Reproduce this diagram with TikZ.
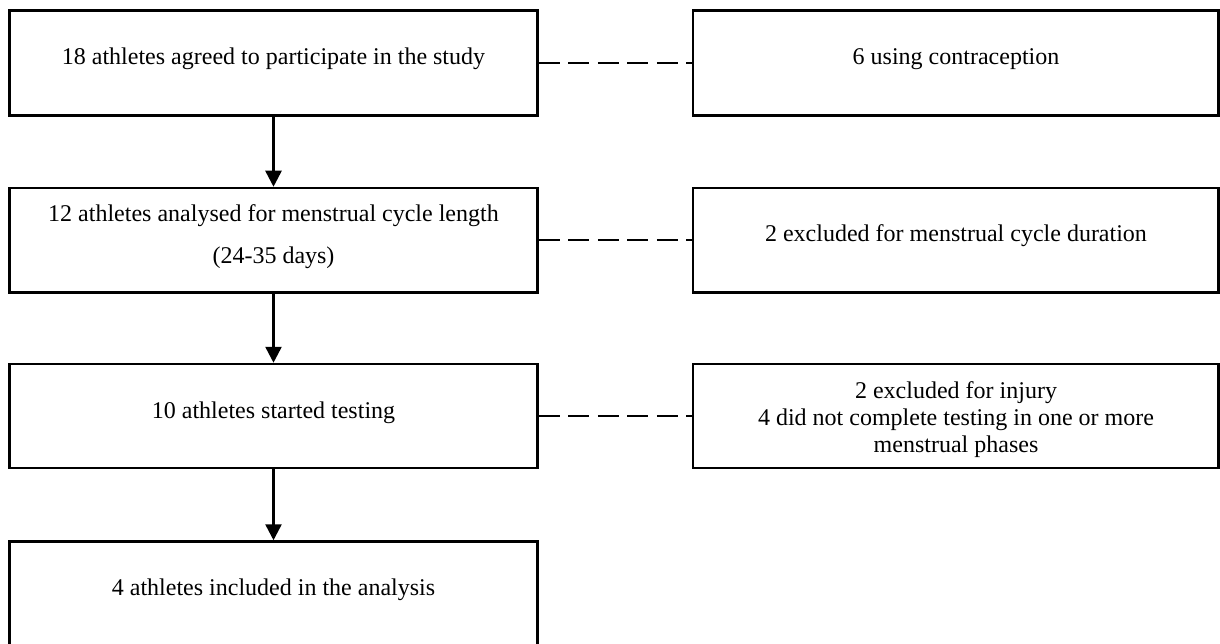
\documentclass[tikz,border=0pt]{standalone}
\usepackage{fontspec}
\setmainfont{Liberation Serif}
\usetikzlibrary{arrows.meta}
\begin{document}
\begin{tikzpicture}[x=1pt,y=-1pt,
  lbox/.style={draw, line width=2.5pt, inner sep=0pt, minimum width=528pt, minimum height=105pt},
  rbox/.style={draw, line width=2.5pt, inner sep=0pt, minimum width=525.5pt, minimum height=105pt},
  txt/.style={inner sep=0pt, anchor=base, font=\fontsize{24}{28}\selectfont},
  flow/.style={line width=2.5pt, -{Triangle[width=16pt,length=16pt]}},
  excl/.style={line width=2.5pt, dash pattern=on 21pt off 8.5pt}]
\useasboundingbox (0,0) rectangle (1220,644);
\clip (0,0) rectangle (1220,644);
\fill[white] (0,0) rectangle (1220,644);
% left column
\node[lbox] (b1) at (273.5,63) {};
\node[lbox, minimum height=104.5pt] (b2) at (273.5,240.25) {};
\node[lbox, minimum height=104pt] (b3) at (273.5,416) {};
\node[lbox] (b4) at (273.5,594) {};
% right column
\node[rbox] (r1) at (955.75,63) {};
\node[rbox, minimum height=104.5pt] (r2) at (955.75,240.25) {};
\node[rbox, minimum height=104pt] (r3) at (955.75,416) {};
% texts
\node[txt] (t1) at (273.5,65) {18 athletes agreed to participate in the study};
\node[txt] (t2a) at (273.5,221.7) {12 athletes analysed for menstrual cycle length};
\node[txt] (t2b) at (273.5,263.3) {(24-35 days)};
\node[txt] (t3) at (273.5,418.3) {10 athletes started testing};
\node[txt] (t4) at (273.5,595.5) {4 athletes included in the analysis};
\node[txt] (s1) at (956,65) {6 using contraception};
\node[txt] (s2) at (956,241.7) {2 excluded for menstrual cycle duration};
\node[txt] (s3a) at (956,398) {2 excluded for injury};
\node[txt] (s3b) at (956,425.5) {4 did not complete testing in one or more};
\node[txt] (s3c) at (956,452.5) {menstrual phases};
% connectors
\draw[flow] (b1.south) -- (b2.north);
\draw[flow] (b2.south) -- (b3.north);
\draw[flow] (b3.south) -- (b4.north);
\draw[excl] (b1.east) -- (r1.west);
\draw[excl] (b2.east) -- (r2.west);
\draw[excl] (b3.east) -- (r3.west);
\end{tikzpicture}
\end{document}
